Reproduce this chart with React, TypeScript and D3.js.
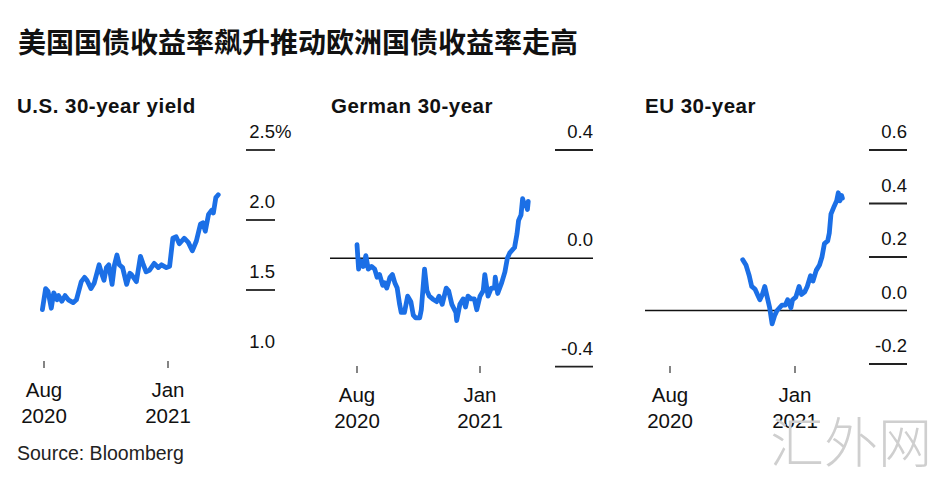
import React, {JSX} from "react";
import * as d3 from "d3";

// US 30-year Treasury yield, %
const usDates = [
    "2020-07-30", "2020-08-03", "2020-08-06", "2020-08-10", "2020-08-13", "2020-08-17", "2020-08-19",
    "2020-08-23", "2020-08-27", "2020-08-31", "2020-09-06", "2020-09-10", "2020-09-16", "2020-09-20",
    "2020-09-23", "2020-09-28", "2020-10-02", "2020-10-08", "2020-10-11", "2020-10-14", "2020-10-17",
    "2020-10-20", "2020-10-24", "2020-10-27", "2020-10-30", "2020-11-02", "2020-11-06", "2020-11-11",
    "2020-11-15", "2020-11-17", "2020-11-23", "2020-11-28", "2020-12-01", "2020-12-05", "2020-12-09",
    "2020-12-15", "2020-12-20", "2020-12-24", "2020-12-30", "2021-01-03", "2021-01-07", "2021-01-11",
    "2021-01-15", "2021-01-21", "2021-01-26", "2021-01-31", "2021-02-05", "2021-02-10", "2021-02-13",
    "2021-02-16", "2021-02-20", "2021-02-24", "2021-02-26", "2021-03-01", "2021-03-04",
];
const usValues = [
    1.36, 1.51, 1.49, 1.37, 1.48, 1.43, 1.46,
    1.42, 1.46, 1.43, 1.41, 1.43, 1.56, 1.59,
    1.57, 1.51, 1.55, 1.68, 1.62, 1.57, 1.66,
    1.68, 1.54, 1.68, 1.75, 1.68, 1.66, 1.54,
    1.62, 1.61, 1.56, 1.74, 1.69, 1.63, 1.64,
    1.69, 1.66, 1.68, 1.66, 1.67, 1.87, 1.88,
    1.83, 1.87, 1.84, 1.78, 1.85, 1.97, 1.98,
    1.92, 2.04, 2.07, 2.05, 2.16, 2.18,
];

// German 30-year Bund yield, %
const deDates = [
    "2020-08-01", "2020-08-03", "2020-08-06", "2020-08-09", "2020-08-12", "2020-08-15", "2020-08-19",
    "2020-08-23", "2020-08-26", "2020-08-29", "2020-09-02", "2020-09-04", "2020-09-07", "2020-09-11",
    "2020-09-14", "2020-09-17", "2020-09-20", "2020-09-23", "2020-09-25", "2020-09-29", "2020-10-03",
    "2020-10-07", "2020-10-10", "2020-10-13", "2020-10-18", "2020-10-20", "2020-10-24", "2020-10-27",
    "2020-10-30", "2020-11-03", "2020-11-08", "2020-11-11", "2020-11-15", "2020-11-20", "2020-11-23",
    "2020-11-27", "2020-12-02", "2020-12-03", "2020-12-07", "2020-12-11", "2020-12-14", "2020-12-17",
    "2020-12-21", "2020-12-25", "2020-12-28", "2021-01-01", "2021-01-05", "2021-01-07", "2021-01-11",
    "2021-01-15", "2021-01-19", "2021-01-20", "2021-01-23", "2021-01-28", "2021-02-01", "2021-02-04",
    "2021-02-07", "2021-02-13", "2021-02-16", "2021-02-18", "2021-02-21", "2021-02-23", "2021-02-25",
    "2021-02-27", "2021-03-01", "2021-03-02",
];
const deValues = [
    0.05, -0.04, -0.01, -0.03, 0.01, -0.04, -0.03,
    -0.04, -0.07, -0.06, -0.10, -0.09, -0.11, -0.07,
    -0.06, -0.09, -0.11, -0.17, -0.20, -0.20, -0.14,
    -0.16, -0.21, -0.22, -0.22, -0.19, -0.04, -0.12,
    -0.14, -0.15, -0.16, -0.14, -0.17, -0.11, -0.12,
    -0.17, -0.20, -0.23, -0.17, -0.15, -0.18, -0.14,
    -0.15, -0.15, -0.19, -0.14, -0.12, -0.06, -0.14,
    -0.11, -0.11, -0.07, -0.13, -0.09, -0.05, 0.00,
    0.02, 0.04, 0.09, 0.14, 0.16, 0.22, 0.20,
    0.20, 0.18, 0.21,
];

// EU 30-year bond yield, %
const euDates = [
    "2020-10-29", "2020-11-02", "2020-11-04", "2020-11-06", "2020-11-09", "2020-11-13", "2020-11-16",
    "2020-11-19", "2020-11-22", "2020-11-25", "2020-11-28", "2020-12-01", "2020-12-04", "2020-12-07",
    "2020-12-10", "2020-12-13", "2020-12-16", "2020-12-20", "2020-12-23", "2020-12-27", "2020-12-29",
    "2021-01-02", "2021-01-06", "2021-01-09", "2021-01-13", "2021-01-16", "2021-01-20", "2021-01-23",
    "2021-01-27", "2021-01-31", "2021-02-03", "2021-02-06", "2021-02-10", "2021-02-12", "2021-02-14",
    "2021-02-18", "2021-02-21", "2021-02-23", "2021-02-25", "2021-02-27", "2021-02-28",
];
const euValues = [
    0.19, 0.17, 0.15, 0.13, 0.09, 0.08, 0.06,
    0.04, 0.06, 0.09, 0.05, 0.01, -0.05, -0.02,
    0.00, 0.01, 0.02, 0.02, 0.04, 0.01, 0.04,
    0.05, 0.09, 0.06, 0.07, 0.09, 0.13, 0.11,
    0.15, 0.17, 0.20, 0.25, 0.26, 0.29, 0.36,
    0.39, 0.41, 0.44, 0.41, 0.43, 0.42,
];

const usTicks = [1.0, 1.5, 2.0, 2.5];
const usTickLabels = ["1.0", "1.5", "2.0", "2.5"];
const deTicks = [-0.4, 0.0, 0.4];
const deTickLabels = ["-0.4", "0.0", "0.4"];
const euTicks = [-0.2, 0.0, 0.2, 0.4, 0.6];
const euTickLabels = ["-0.2", "0.0", "0.2", "0.4", "0.6"];

const monthTicks = ["2020-08-01", "2021-01-01"];
const monthLabels = ["Aug", "Jan"];
const yearLabels = ["2020", "2021"];

const parseDate = d3.timeParse("%Y-%m-%d");
const LINE_COLOR = "#1b6fe6";
const FONT = "'Liberation Sans', Arial, sans-serif";

type PanelProps = {
    title: string
    titleX: number
    dates: string[]
    values: number[]
    xRange: [number, number]
    yDomain: [number, number]
    yRange: [number, number]
    ticks: number[]
    tickLabels: string[]
    ruleRight: number
    ruleWidth: number
    zeroFrom?: number
    noRule?: number
    suffix?: string
    axisY: number
}

const Panel = (p: PanelProps): JSX.Element => {
    const x = d3.scaleTime()
        .domain(monthTicks.map(d => parseDate(d) as Date))
        .range(p.xRange);
    const y = d3.scaleLinear(p.yDomain, p.yRange);
    const points = p.dates.map((d, i) => [parseDate(d) as Date, p.values[i]] as [Date, number]);
    const line = d3.line<[Date, number]>()
        .x(d => x(d[0]))
        .y(d => y(d[1]));
    const top = d3.max(p.ticks) as number;

    return (
        <g>
            <text x={p.titleX} y={113} fontFamily={FONT} fontWeight={700} fontSize={20.5}
                  letterSpacing={0.5} fill="#111">{p.title}</text>

            {p.zeroFrom !== undefined && (
                <line x1={p.zeroFrom} x2={p.ruleRight} y1={y(0)} y2={y(0)} stroke="#111" strokeWidth={1.6}/>
            )}

            {p.ticks.map((t, i) => (
                <g key={i}>
                    {t !== p.noRule && !(p.zeroFrom !== undefined && t === 0) && (
                        <line x1={p.ruleRight - p.ruleWidth} x2={p.ruleRight} y1={y(t)} y2={y(t)}
                              stroke="#222" strokeWidth={1.8}/>
                    )}
                    <text x={p.ruleRight} y={y(t) - 12} textAnchor="end" fontFamily={FONT}
                          fontSize={18.5} fill="#111">{p.tickLabels[i]}</text>
                    {p.suffix && t === top && (
                        <text x={p.ruleRight} y={y(t) - 12} fontFamily={FONT} fontSize={18.5}
                              fill="#111">{p.suffix}</text>
                    )}
                </g>
            ))}

            <path d={line(points) as string} fill="none" stroke={LINE_COLOR} strokeWidth={4.8}
                  strokeLinejoin="round" strokeLinecap="round"/>

            {monthTicks.map((m, i) => {
                const tx = x(parseDate(m) as Date);
                return (
                    <g key={m}>
                        <line x1={tx} x2={tx} y1={p.axisY} y2={p.axisY + 7} stroke="#333" strokeWidth={1.2}/>
                        <text x={tx} y={p.axisY + 36} textAnchor="middle" fontFamily={FONT}
                              fontSize={20.5} fill="#111">{monthLabels[i]}</text>
                        <text x={tx} y={p.axisY + 62} textAnchor="middle" fontFamily={FONT}
                              fontSize={20.5} fill="#111">{yearLabels[i]}</text>
                    </g>
                );
            })}
        </g>
    );
}

export default function App(): JSX.Element {
    document.body.style.margin = "0";
    return (
        <svg width={947} height={480} style={{display: "block", background: "#fff"}}>
            <rect width={947} height={480} fill="#fff"/>
            <text x={18} y={53} fontFamily="'Noto Sans CJK SC', sans-serif" fontWeight={700}
                  fontSize={28} fill="#111">美国国债收益率飙升推动欧洲国债收益率走高</text>

            <Panel title="U.S. 30-year yield" titleX={17} dates={usDates} values={usValues}
                   xRange={[44, 168]} yDomain={[1.0, 2.5]} yRange={[360, 150]}
                   ticks={usTicks} tickLabels={usTickLabels} ruleRight={275} ruleWidth={29}
                   noRule={1.0} suffix="%" axisY={361}/>
            <Panel title="German 30-year" titleX={331} dates={deDates} values={deValues}
                   xRange={[357, 480]} yDomain={[-0.4, 0.4]} yRange={[366.6, 150]}
                   ticks={deTicks} tickLabels={deTickLabels} ruleRight={593} ruleWidth={38}
                   zeroFrom={330} axisY={366}/>
            <Panel title="EU 30-year" titleX={645} dates={euDates} values={euValues}
                   xRange={[670, 795]} yDomain={[-0.2, 0.6]} yRange={[364, 150]}
                   ticks={euTicks} tickLabels={euTickLabels} ruleRight={907} ruleWidth={38}
                   zeroFrom={645} axisY={366}/>

            <text x={17} y={460} fontFamily={FONT} fontSize={19.5} fill="#222">Source: Bloomberg</text>

            <text x={770} y={463} fontFamily="'Noto Sans CJK SC', sans-serif" fontWeight={300}
                  fontSize={54} fill="#cfcfcf">汇外网</text>
        </svg>
    );
}
